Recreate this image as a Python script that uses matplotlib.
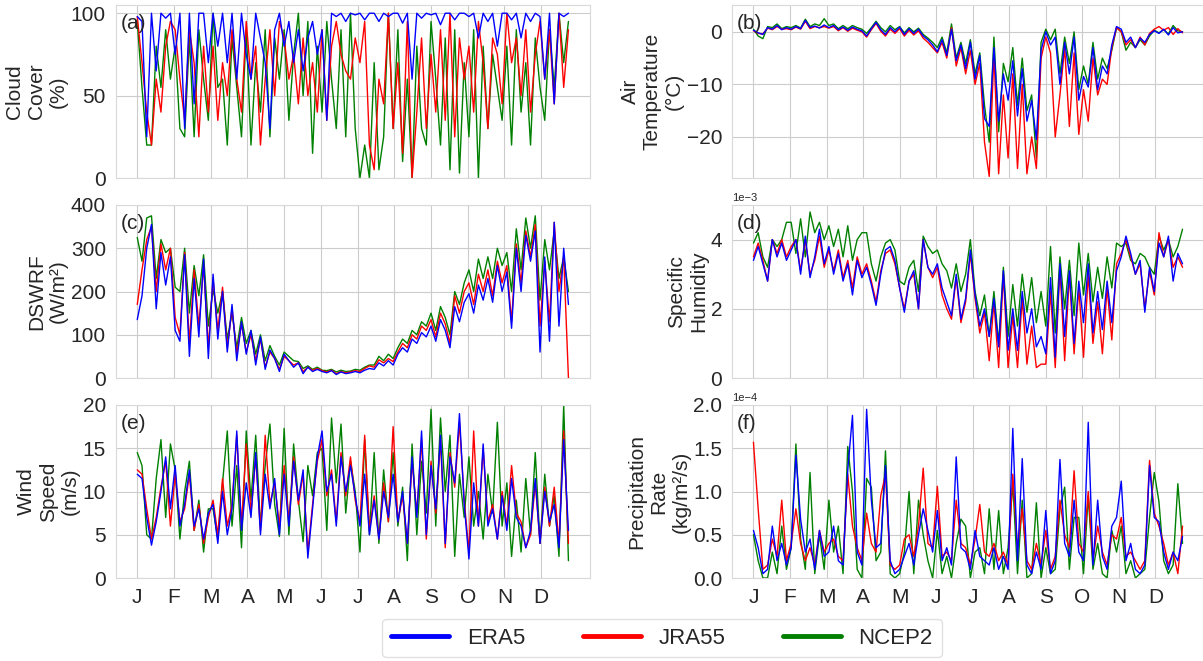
import numpy as np
import matplotlib
matplotlib.use('Agg')
import matplotlib.pyplot as plt
import seaborn as sns

# every 4th day of the year
days = np.arange(0, 365, 4)
month_ticks = np.arange(0, 365, 31)
month_labels = ['J', 'F', 'M', 'A', 'M', 'J', 'J', 'A', 'S', 'O', 'N', 'D']

# (a) cloud cover (%)
cc_era5 = [98, 95, 25, 100, 65, 100, 97, 100,
           75, 100, 30, 100, 45, 100, 100, 70,
           100, 80, 100, 70, 100, 60, 100, 75,
           60, 100, 85, 70, 30, 90, 100,
           80, 95, 70, 90, 65, 85, 95, 75,
           90, 35, 100, 98, 100, 95, 100, 99,
           100, 96, 100, 100, 95, 100, 98, 100,
           100, 94, 100, 60, 100, 97, 100,
           99, 100, 93, 100, 100, 96, 100, 100,
           98, 100, 85, 100, 95, 100, 80, 100,
           100, 96, 100, 85, 100, 95, 100, 98,
           60, 100, 45, 100, 98, 100]
cc_jra55 = [98, 70, 40, 20, 60, 40, 80, 95,
            90, 60, 35, 90, 70, 25, 80, 40,
            80, 35, 70, 50, 90, 60, 40, 95,
            60, 80, 20, 60, 90, 50, 95,
            85, 60, 75, 45, 85, 50, 70, 40,
            90, 35, 80, 95, 75, 65, 60, 85,
            70, 95, 20, 5, 60, 45, 100, 30,
            70, 15, 95, 0, 40, 85, 30,
            75, 40, 90, 35, 100, 25, 85, 60,
            80, 40, 95, 70, 30, 85, 75, 45,
            100, 70, 85, 50, 90, 40, 75, 95,
            60, 90, 45, 100, 55, 90]
cc_ncep2 = [95, 55, 20, 20, 80, 55, 90, 60,
            80, 30, 25, 85, 25, 90, 60, 35,
            100, 55, 60, 20, 85, 55, 25, 90,
            20, 70, 40, 90, 25, 85, 60,
            90, 35, 75, 100, 50, 95, 15, 80,
            40, 95, 60, 30, 90, 25, 100, 30,
            0, 20, 0, 70, 5, 25, 100, 30,
            90, 10, 60, 0, 80, 30, 20,
            95, 60, 20, 85, 5, 90, 3, 70,
            25, 90, 0, 80, 30, 75, 55, 35,
            80, 20, 90, 40, 70, 20, 85, 55,
            35, 90, 55, 100, 70, 95]

# (b) air temperature (deg C)
t_era5 = [0.3, -0.2, -0.5, 0.8, 0.5, 1.2, 0.4, 0.8,
          0.5, 1.0, 0.6, 2.2, 0.8, 1.1, 0.7, 1.3,
          0.8, 1.2, 0.4, 0.9, 0.3, 0.9, 0.5, 0.2,
          -0.8, 0.6, 1.8, 0.4, -0.5, 0.8, 0.0,
          0.9, -0.5, 0.6, -0.3, 0.5, -0.8, -1.5, -2.5,
          -3.8, -1.5, -4.5, 0.5, -5.5, -2.5, -7.0, -2.0,
          -9.0, -4.5, -16.5, -18.0, -3.0, -17.0, -8.0, -13.0,
          -5.5, -16.0, -7.0, -17.0, -13.0, -20.5, -3.5,
          0.0, -2.5, -1.0, -10.0, -2.0, -8.0, -1.0, -13.0,
          -8.5, -10.5, -3.0, -11.0, -6.5, -8.0, -2.5, 1.0,
          0.5, -2.0, -1.0, -3.0, -1.2, -2.0, -0.5, 0.2,
          -0.3, 0.5, -0.6, 0.8, -0.2, 0.0]
t_jra55 = [0.2, -0.3, -0.4, 0.7, 0.4, 1.0, 0.5, 0.6,
           0.4, 0.9, 0.5, 2.0, 0.6, 1.0, 0.8, 1.0,
           0.7, 1.0, 0.2, 0.8, 0.1, 0.7, 0.3, 0.0,
           -1.0, 0.4, 1.6, 0.1, -0.8, 0.5, -0.3,
           0.6, -0.8, 0.3, -0.6, 0.2, -1.2, -2.0, -3.0,
           -4.0, -2.0, -5.0, 0.8, -6.5, -3.0, -8.0, -3.5,
           -10.0, -6.0, -21.0, -27.5, -4.0, -27.0, -12.0, -24.0,
           -8.0, -26.0, -10.0, -27.0, -20.0, -26.0, -5.0,
           -1.0, -4.0, -20.0, -12.0, -3.0, -18.0, -4.0, -19.5,
           -11.0, -17.0, -5.0, -12.0, -9.0, -10.0, -3.0, 0.8,
           0.0, -2.5, -1.5, -3.0, -1.0, -2.5, -0.3, 0.5,
           1.0, 0.3, 0.8, -0.5, 0.6, -0.2]
t_ncep2 = [0.5, -0.8, -1.3, 1.0, 0.8, 1.5, 0.6, 1.0,
           0.8, 1.2, 0.7, 2.4, 1.0, 1.5, 1.2, 2.5,
           1.2, 1.5, 0.6, 1.2, 0.6, 1.2, 0.8, 0.5,
           -0.3, 0.8, 2.0, 0.8, 0.0, 1.2, 0.4,
           1.0, -0.2, 0.8, 0.0, 0.7, -0.5, -1.2, -2.0,
           -3.0, -1.0, -4.0, 1.5, -5.0, -2.0, -6.0, -1.5,
           -8.0, -4.0, -14.0, -21.0, -1.0, -19.0, -6.0, -9.5,
           -3.0, -14.0, -5.0, -15.0, -12.0, -24.0, -2.0,
           0.5, -1.5, 0.5, -8.0, -1.0, -6.0, 0.0, -11.0,
           -6.5, -10.0, -2.0, -9.0, -5.0, -7.0, -3.5, 0.8,
           0.0, -3.5, -2.0, -3.0, -1.5, -2.5, -0.8, 0.3,
           -0.2, 0.4, -0.4, 1.2, 0.2, 0.0]

# (c) downward shortwave radiation (W/m2)
sw_era5 = [135, 190, 300, 355, 160, 290, 215, 280,
           110, 85, 285, 50, 230, 95, 275, 45,
           240, 90, 200, 60, 170, 40, 130, 55,
           110, 30, 95, 20, 65, 45, 15,
           55, 40, 25, 35, 10, 25, 15, 20,
           15, 12, 17, 8, 14, 10, 12, 15,
           12, 18, 22, 20, 35, 28, 40, 30,
           55, 70, 60, 90, 80, 105, 95,
           120, 85, 135, 110, 70, 165, 130, 175,
           195, 150, 215, 180, 230, 175, 260, 200,
           245, 115, 300, 200, 330, 270, 340, 60,
           280, 85, 360, 120, 300, 170]
sw_jra55 = [170, 250, 320, 350, 200, 310, 250, 300,
            140, 100, 290, 80, 250, 120, 260, 70,
            230, 110, 210, 70, 160, 55, 125, 60,
            100, 40, 90, 25, 60, 45, 20,
            50, 40, 30, 35, 15, 25, 18, 22,
            17, 14, 18, 10, 15, 12, 14, 17,
            15, 22, 28, 25, 42, 35, 45, 38,
            60, 80, 70, 100, 90, 120, 110,
            135, 95, 150, 125, 80, 190, 150, 200,
            220, 170, 240, 200, 250, 190, 270, 220,
            260, 130, 310, 220, 340, 280, 355, 120,
            270, 130, 360, 200, 280, 0]
sw_ncep2 = [325, 270, 370, 375, 230, 320, 290, 300,
            210, 200, 300, 150, 260, 190, 285, 120,
            205, 150, 200, 90, 150, 70, 140, 80,
            110, 55, 100, 40, 75, 50, 30,
            60, 50, 40, 38, 22, 28, 20, 25,
            18, 17, 20, 14, 18, 15, 16, 20,
            18, 25, 30, 30, 50, 40, 55, 45,
            70, 90, 80, 110, 100, 130, 120,
            150, 110, 165, 140, 100, 200, 170, 220,
            250, 200, 275, 230, 280, 230, 300, 260,
            290, 200, 345, 250, 370, 300, 375, 180,
            320, 250, 340, 230, 280, 200]

# (d) specific humidity (1e-3)
q_era5 = [3.4, 3.8, 3.3, 2.8, 4.0, 3.5, 3.9, 3.4,
          3.7, 4.0, 3.0, 4.1, 2.9, 3.5, 4.3, 3.3,
          3.8, 3.0, 3.6, 2.8, 3.3, 2.4, 3.4, 2.9,
          3.2, 2.7, 2.1, 3.0, 3.7, 3.8, 3.4,
          2.6, 1.9, 2.8, 3.1, 2.0, 4.0, 3.2, 3.0,
          3.3, 2.6, 2.2, 1.8, 3.0, 1.7, 2.3, 3.7,
          2.4, 1.5, 2.0, 1.2, 2.3, 0.9, 3.1, 0.8,
          2.0, 0.8, 2.5, 1.3, 2.0, 0.9, 1.2,
          0.7, 2.9, 0.6, 3.3, 1.2, 3.1, 1.0, 2.8,
          1.6, 3.3, 1.3, 2.5, 1.4, 2.8, 1.6, 3.1,
          3.5, 4.1, 3.6, 3.0, 3.4, 1.9, 3.2, 2.5,
          3.9, 3.5, 4.1, 2.8, 3.6, 3.3]
q_jra55 = [3.5, 3.9, 3.4, 2.8, 4.0, 3.6, 4.0, 3.5,
           3.8, 4.0, 3.1, 4.0, 3.0, 3.4, 4.1, 3.2,
           3.7, 3.1, 3.7, 2.9, 3.4, 2.6, 3.5, 3.0,
           3.3, 2.8, 2.2, 3.1, 3.6, 3.7, 3.3,
           2.6, 2.0, 2.8, 3.0, 2.0, 4.0, 3.2, 2.9,
           3.2, 2.4, 2.0, 1.7, 2.9, 1.6, 2.2, 3.6,
           2.3, 1.3, 1.9, 0.5, 2.2, 0.3, 3.0, 0.3,
           1.8, 0.3, 2.3, 0.4, 1.5, 0.3, 0.4,
           0.4, 2.5, 0.3, 3.2, 0.5, 3.0, 0.7, 2.6,
           0.6, 3.0, 1.0, 2.2, 0.7, 2.6, 1.1, 3.3,
           3.6, 4.0, 3.5, 3.0, 3.3, 2.0, 3.1, 2.4,
           4.2, 3.5, 4.0, 3.2, 3.5, 3.2]
q_ncep2 = [3.9, 4.2, 3.5, 3.2, 4.0, 3.8, 4.0, 4.5,
           4.5, 3.6, 4.6, 3.5, 4.8, 4.2, 4.5, 4.0,
           4.4, 3.8, 4.3, 3.5, 4.4, 3.4, 4.0, 4.2,
           4.2, 3.3, 2.8, 3.5, 3.9, 4.0, 3.7,
           2.8, 2.7, 3.2, 3.4, 2.5, 4.1, 3.8, 3.6,
           3.7, 3.3, 3.1, 2.6, 3.3, 2.5, 3.0, 4.0,
           2.5, 1.8, 2.4, 1.2, 2.5, 1.0, 3.2, 1.2,
           2.7, 1.5, 3.0, 1.9, 2.9, 1.6, 2.5,
           1.5, 3.8, 1.3, 3.5, 2.0, 3.4, 1.8, 3.9,
           2.4, 3.6, 2.2, 3.2, 2.3, 3.5, 2.6, 3.9,
           3.8, 3.9, 3.4, 3.3, 3.6, 3.5, 3.2, 3.0,
           4.1, 3.7, 4.0, 3.5, 3.8, 4.3]

# (e) wind speed (m/s)
ws_era5 = [12.0, 11.5, 7.0, 3.8, 6.5, 10.0, 14.0, 8.0,
           13.0, 6.0, 8.5, 12.5, 6.0, 8.0, 4.5, 7.5,
           8.5, 4.0, 10.0, 5.0, 8.0, 17.0, 5.5, 11.0,
           7.0, 14.5, 5.0, 12.0, 8.0, 11.5, 5.0,
           12.0, 6.0, 13.5, 9.0, 12.5, 2.3, 8.0, 14.0,
           17.0, 10.0, 12.0, 6.0, 14.0, 10.0, 13.0, 9.5,
           6.0, 12.0, 5.0, 9.0, 4.5, 10.0, 7.0, 12.0,
           6.5, 10.0, 4.0, 14.0, 7.0, 17.0, 5.0,
           13.0, 8.0, 16.5, 4.0, 14.0, 11.0, 19.0, 8.5,
           2.2, 11.0, 6.0, 15.5, 6.0, 8.0, 4.5, 9.5,
           5.5, 11.5, 7.0, 6.0, 3.5, 5.5, 11.5, 4.0,
           10.0, 6.5, 8.5, 3.5, 16.0, 5.5]
ws_jra55 = [12.5, 12.0, 8.0, 4.5, 7.0, 10.5, 13.5, 6.0,
            12.0, 6.5, 8.0, 12.0, 5.5, 8.5, 4.0, 7.0,
            9.0, 5.0, 11.5, 6.0, 8.5, 16.5, 6.0, 15.5,
            7.5, 14.0, 5.5, 16.5, 8.5, 11.0, 6.0,
            13.0, 6.5, 14.0, 8.5, 12.0, 3.0, 8.5, 13.5,
            16.0, 9.5, 12.5, 6.5, 14.5, 9.5, 14.0, 9.0,
            6.5, 16.5, 5.5, 9.5, 4.5, 11.0, 6.5, 17.5,
            6.5, 9.5, 4.0, 13.5, 7.5, 16.0, 4.5,
            13.5, 7.5, 16.0, 3.5, 14.5, 10.5, 18.0, 9.0,
            3.0, 17.0, 6.0, 15.0, 6.5, 8.5, 4.5, 10.0,
            6.0, 13.0, 7.5, 6.5, 3.5, 5.0, 11.0, 4.0,
            10.5, 6.0, 10.5, 4.0, 17.0, 4.0]
ws_ncep2 = [14.5, 13.0, 5.0, 4.5, 11.5, 16.0, 7.0, 15.5,
            12.5, 4.5, 10.0, 13.5, 5.5, 9.0, 3.0, 8.0,
            8.0, 4.5, 11.0, 17.0, 6.0, 13.0, 3.5, 17.0,
            9.0, 16.5, 6.0, 13.0, 17.8, 8.5, 4.8,
            17.3, 5.0, 15.5, 9.0, 4.2, 13.0, 9.5, 14.5,
            15.0, 5.5, 18.5, 11.0, 17.8, 7.5, 13.5, 10.0,
            3.0, 16.0, 5.0, 14.5, 4.0, 12.5, 6.5, 14.5,
            6.0, 10.5, 2.0, 15.5, 5.0, 13.5, 7.5,
            19.5, 6.0, 18.5, 10.0, 16.5, 2.5, 12.0, 7.0,
            14.0, 6.0, 10.0, 4.5, 12.0, 7.5, 18.0, 6.0,
            11.0, 2.5, 9.0, 3.0, 11.5, 5.0, 14.5, 4.0,
            12.0, 6.0, 9.5, 2.5, 20.0, 2.0]

# (f) precipitation rate (1e-4 kg/m2/s)
pr_era5 = [0.55, 0.35, 0.05, 0.10, 0.60, 0.20, 0.40, 0.15, 0.35, 1.42,
           0.68, 0.30, 0.45, 0.10, 0.55, 0.25, 0.30, 0.60, 0.20, 0.15,
           1.25, 1.88, 0.30, 0.15, 1.95, 0.90, 0.35, 0.40, 1.30, 0.20,
           0.05, 0.10, 0.25, 0.40, 0.15, 0.50, 0.80, 0.55, 0.30, 0.78,
           0.20, 0.35, 0.15, 1.40, 0.35, 0.30, 0.10, 0.55, 0.25, 0.20,
           0.15, 0.35, 0.10, 0.25, 0.10, 1.73, 0.20, 1.38, 0.15, 0.05,
           0.30, 0.10, 0.78, 0.05, 0.20, 1.37, 0.40, 0.25, 0.90, 0.30,
           0.20, 1.80, 0.15, 0.90, 0.25, 0.10, 0.60, 0.70, 1.12, 0.20,
           0.40, 0.10, 0.05, 0.15, 1.30, 0.70, 0.65, 0.30, 0.10, 0.30,
           0.20, 0.48]
pr_jra55 = [1.57, 0.80, 0.10, 0.15, 0.45, 0.25, 0.90, 0.20, 0.40, 0.80,
            0.40, 0.20, 0.35, 0.15, 0.55, 0.30, 0.40, 0.45, 0.25, 0.20,
            1.20, 0.60, 0.35, 0.20, 0.75, 0.40, 0.30, 0.95, 1.20, 0.15,
            0.10, 0.15, 0.45, 0.50, 0.25, 0.60, 1.27, 0.40, 0.35, 1.06,
            0.25, 0.30, 0.20, 0.90, 0.40, 0.35, 0.15, 0.45, 0.85, 0.30,
            0.25, 0.40, 0.20, 0.30, 0.15, 1.20, 0.35, 0.80, 0.20, 0.10,
            0.40, 0.15, 0.55, 0.10, 0.25, 0.90, 0.50, 0.35, 1.24, 0.40,
            0.30, 1.00, 0.20, 0.60, 0.30, 0.15, 0.50, 0.45, 0.70, 0.25,
            0.30, 0.20, 0.10, 0.20, 1.36, 0.75, 0.60, 0.40, 0.15, 0.30,
            0.05, 0.60]
pr_ncep2 = [0.50, 0.20, 0.00, 0.00, 0.30, 0.05, 0.60, 0.10, 0.35, 1.55,
            0.45, 0.10, 1.22, 0.05, 0.50, 0.10, 0.90, 0.30, 0.60, 0.05,
            1.52, 1.00, 0.10, 0.00, 1.15, 1.05, 0.20, 0.30, 1.47, 0.05,
            0.00, 0.05, 0.30, 1.00, 0.05, 0.90, 0.50, 0.20, 0.00, 0.55,
            0.05, 0.25, 0.00, 0.40, 0.68, 0.60, 0.00, 0.30, 0.35, 0.05,
            0.80, 0.10, 0.78, 0.05, 0.35, 1.10, 0.05, 0.90, 0.00, 0.05,
            0.87, 0.00, 0.35, 0.05, 0.10, 0.80, 1.05, 0.10, 0.70, 0.70,
            0.05, 0.95, 0.10, 0.40, 0.05, 0.00, 0.55, 0.30, 0.60, 0.05,
            0.20, 0.00, 0.05, 0.10, 0.70, 1.22, 0.88, 0.20, 0.05, 0.15,
            1.09, 0.40]

sns.set_style('whitegrid')
plt.rcParams['font.family'] = ['Liberation Sans', 'DejaVu Sans']
plt.rcParams['axes.unicode_minus'] = True

fig = plt.figure(figsize=(12.03, 6.61), dpi=100)

W, H = 1203.0, 661.0
col_x = [(115.7, 590.0), (732.0, 1204.0)]
row_y = [(5, 178), (205, 378), (405, 578)]

panels = [
    ('(a)', 'Cloud\nCover\n(%)', cc_era5, cc_jra55, cc_ncep2, 1, (0, 105), [0, 50, 100]),
    ('(b)', 'Air\nTemperature\n(°C)', t_era5, t_jra55, t_ncep2, 1, (-27.8, 5.1), [-20, -10, 0]),
    ('(c)', 'DSWRF\n(W/m²)', sw_era5, sw_jra55, sw_ncep2, 1, (0, 400), [0, 100, 200, 300, 400]),
    ('(d)', 'Specific\nHumidity', q_era5, q_jra55, q_ncep2, 1e-3, (0, 5e-3), [0, 2e-3, 4e-3]),
    ('(e)', 'Wind\nSpeed\n(m/s)', ws_era5, ws_jra55, ws_ncep2, 1, (0, 20), [0, 5, 10, 15, 20]),
    ('(f)', 'Precipitation\nRate\n(kg/m²/s)', pr_era5, pr_jra55, pr_ncep2, 1e-4, (0, 2e-4),
     [0, 0.5e-4, 1e-4, 1.5e-4, 2e-4]),
]

for i, (tag, ylab, era5, jra55, ncep2, scale, ylim, yticks) in enumerate(panels):
    r, c = divmod(i, 2)
    x0, x1 = col_x[c]
    ytop, ybot = row_y[r]
    ax = fig.add_axes([x0 / W, (H - ybot) / H, (x1 - x0) / W, (ybot - ytop) / H])
    ax.plot(days, np.array(ncep2) * scale, color='green', lw=1.0, label='NCEP2')
    ax.plot(days, np.array(jra55) * scale, color='red', lw=1.0, label='JRA55')
    ax.plot(days, np.array(era5) * scale, color='blue', lw=1.0, label='ERA5')
    ax.set_ylim(*ylim)
    ax.set_yticks(yticks)
    if scale != 1:
        ax.ticklabel_format(axis='y', style='sci', scilimits=(0, 0))
    ax.set_xlim(-18.2, 382.2)
    ax.set_xticks(month_ticks)
    if r == 2:
        ax.set_xticklabels(month_labels)
    else:
        ax.set_xticklabels([])
    ax.tick_params(labelsize=15, colors='.15')
    ax.set_ylabel(ylab, fontsize=15, color='.15', labelpad=2)
    ax.yaxis.get_offset_text().set_fontsize(8)
    ax.text(0.01, 0.95, tag, transform=ax.transAxes, fontsize=15, va='top', ha='left', color='.15')
    for s in ax.spines.values():
        s.set_color('.85')

handles = [plt.Line2D([], [], color=c, lw=3.5) for c in ('blue', 'red', 'green')]
fig.legend(handles, ['ERA5', 'JRA55', 'NCEP2'], loc='center', bbox_to_anchor=(662 / W, 1 - 638 / H),
           ncol=3, fontsize=16, handlelength=2.6, columnspacing=2.6, frameon=True,
           edgecolor='.85', fancybox=True)

fig.savefig('out.png', dpi=100)
